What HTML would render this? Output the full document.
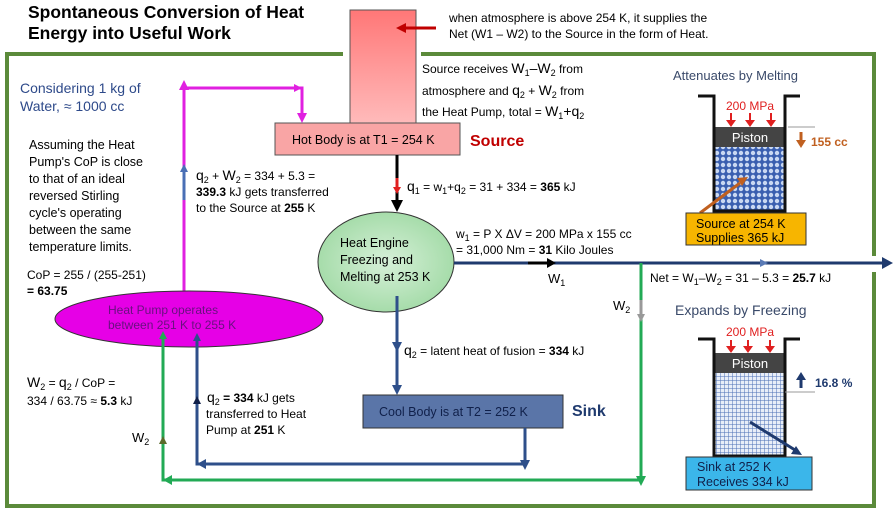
<!DOCTYPE html>
<html><head><meta charset="utf-8"><style>
body{margin:0;background:#fff}
svg{display:block;font-family:"Liberation Sans",Arial,sans-serif}
</style></head><body>
<svg width="895" height="511" viewBox="0 0 895 511" xmlns="http://www.w3.org/2000/svg">
<defs>
<pattern id="dots" width="6" height="6" patternUnits="userSpaceOnUse"><rect width="6" height="6" fill="#3a5fb0"/><circle cx="3" cy="3" r="2.2" fill="#c9d8f2"/></pattern>
<pattern id="grid" width="4" height="4" patternUnits="userSpaceOnUse"><rect width="4" height="4" fill="#e8eef8"/><path d="M0 0H4M0 0V4" stroke="#4a6fb5" stroke-width="1"/></pattern>
<linearGradient id="pill" x1="0" y1="0" x2="0" y2="1"><stop offset="0" stop-color="#f77"/><stop offset="1" stop-color="#fbb"/></linearGradient>
<radialGradient id="eng"><stop offset="0" stop-color="#d6f0d8"/><stop offset="1" stop-color="#a6dcaa"/></radialGradient>
</defs>
<g stroke="#5b8a3a" stroke-width="4" fill="none">
<path d="M343 54H7V506H874V272"/>
<path d="M421 54H874V256"/>
</g>
<text x="28" y="18" font-size="17.5" font-weight="bold">Spontaneous Conversion of Heat</text>
<text x="28" y="39" font-size="17.5" font-weight="bold">Energy into Useful Work</text>
<rect x="350" y="10" width="66" height="114" fill="url(#pill)" stroke="#555"/>
<rect x="275" y="123" width="185" height="32" fill="#f9a5a5" stroke="#555"/>
<text x="292" y="144" font-size="12.5">Hot Body is at T1 = 254 K</text>
<text x="470" y="146" font-size="16" font-weight="bold" fill="#c00000">Source</text>
<path d="M436 28H405" stroke="#c00000" stroke-width="3"/><path d="M396 28l10-5v10z" fill="#c00000"/>
<text x="449" y="22" font-size="12">when atmosphere is above 254 K, it supplies the</text>
<text x="449" y="38" font-size="12">Net (W1 – W2) to the Source in the form of Heat.</text>
<text x="422" y="73" font-size="12">Source receives <tspan font-size="14">W</tspan><tspan font-size="9" dy="3">1</tspan><tspan dy="-3" font-size="14">–W</tspan><tspan font-size="9" dy="3">2</tspan><tspan dy="-3"> from</tspan></text>
<text x="422" y="95" font-size="12">atmosphere and <tspan font-size="14">q</tspan><tspan font-size="9" dy="3">2</tspan><tspan dy="-3"> + </tspan><tspan font-size="14">W</tspan><tspan font-size="9" dy="3">2</tspan><tspan dy="-3"> from</tspan></text>
<text x="422" y="116" font-size="12">the Heat Pump, total = <tspan font-size="14">W</tspan><tspan font-size="9" dy="3">1</tspan><tspan dy="-3" font-size="14">+q</tspan><tspan font-size="9" dy="3">2</tspan></text>
<text x="20" y="93" font-size="14" fill="#2e4a8a">Considering 1 kg of</text>
<text x="20" y="111" font-size="14" fill="#2e4a8a">Water, ≈ 1000 cc</text>
<g font-size="12.5"><text x="29" y="149">Assuming the Heat</text><text x="29" y="166">Pump's CoP is close</text><text x="29" y="183">to that of an ideal</text><text x="29" y="200">reversed Stirling</text><text x="29" y="217">cycle's operating</text><text x="29" y="234">between the same</text><text x="29" y="251">temperature limits.</text></g>
<text x="27" y="279" font-size="12">CoP = 255 / (255-251)</text>
<text x="27" y="295" font-size="12" font-weight="bold">= 63.75</text>
<text x="27" y="387" font-size="12"><tspan font-size="14">W</tspan><tspan font-size="9" dy="3">2</tspan><tspan dy="-3"> = </tspan><tspan font-size="14">q</tspan><tspan font-size="9" dy="3">2</tspan><tspan dy="-3"> / CoP =</tspan></text>
<text x="27" y="405" font-size="12">334 / 63.75 ≈  <tspan font-weight="bold">5.3</tspan> kJ</text>
<text x="132" y="442" font-size="13">W<tspan font-size="9" dy="3">2</tspan></text>
<path d="M184 291V88H302V115" stroke="#e020e0" stroke-width="3" fill="none"/>
<path d="M184 80l-5 10h10z M302 123l-5-10h10z M302 88l-8-4v8z" fill="#e020e0"/>
<path d="M184 168V200" stroke="#4a6fb5" stroke-width="3"/><path d="M184 164l-4 8h8z" fill="#4a6fb5"/>
<text x="196" y="180" font-size="12"><tspan font-size="14">q</tspan><tspan font-size="9" dy="3">2</tspan><tspan dy="-3"> + </tspan><tspan font-size="14">W</tspan><tspan font-size="9" dy="3">2</tspan><tspan dy="-3"> = 334 + 5.3 =</tspan></text>
<text x="196" y="196" font-size="12"><tspan font-weight="bold">339.3</tspan> kJ gets transferred</text>
<text x="196" y="212" font-size="12">to the Source at <tspan font-weight="bold">255</tspan> K</text>
<ellipse cx="189" cy="319" rx="134" ry="28" fill="#e600e6" stroke="#333"/>
<text x="108" y="314" font-size="12" fill="#6a1080">Heat Pump  operates</text>
<text x="108" y="329" font-size="12" fill="#6a1080">between 251 K to 255 K</text>
<path d="M397 155V203" stroke="#000" stroke-width="3"/>
<path d="M397 212l-6-12h12z" fill="#000"/>
<path d="M397 178V190" stroke="#e02020" stroke-width="3"/><path d="M397 194l-4-7h8z" fill="#e02020"/>
<text x="407" y="191" font-size="12"><tspan font-size="14">q</tspan><tspan font-size="9" dy="3">1</tspan><tspan dy="-3"> = w</tspan><tspan font-size="9" dy="3">1</tspan><tspan dy="-3">+q</tspan><tspan font-size="9" dy="3">2</tspan><tspan dy="-3"> = 31 + 334 = </tspan><tspan font-weight="bold">365</tspan> kJ</text>
<ellipse cx="386" cy="262" rx="68" ry="50" fill="url(#eng)" stroke="#333"/>
<g font-size="12.5"><text x="340" y="247">Heat Engine</text><text x="340" y="264">Freezing and</text><text x="340" y="281">Melting at 253 K</text></g>
<text x="456" y="238" font-size="12">w<tspan font-size="9" dy="3">1</tspan><tspan dy="-3"> = P X ΔV =  200 MPa x 155 cc</tspan></text>
<text x="456" y="254" font-size="12">= 31,000 Nm = <tspan font-weight="bold">31</tspan> Kilo Joules</text>
<path d="M454 263H884" stroke="#1f3a6e" stroke-width="3"/>
<path d="M528 263H550" stroke="#000" stroke-width="3"/><path d="M556 263l-9-5v10z" fill="#000"/>
<path d="M768 263l-8-4v8z" fill="#5a7ab5"/>
<path d="M893 263l-11-6v12z" fill="#1f3a6e"/>
<text x="548" y="283" font-size="13">W<tspan font-size="9" dy="3">1</tspan></text>
<text x="650" y="282" font-size="12">Net = W<tspan font-size="9" dy="3">1</tspan><tspan dy="-3">–W</tspan><tspan font-size="9" dy="3">2</tspan><tspan dy="-3"> = 31 – 5.3 = </tspan><tspan font-weight="bold">25.7</tspan> kJ</text>
<text x="613" y="310" font-size="13">W<tspan font-size="9" dy="3">2</tspan></text>
<path d="M641 263V480H163V338" stroke="#22aa55" stroke-width="3" fill="none"/>
<path d="M641 300V318" stroke="#999" stroke-width="3"/><path d="M641 322l-4-8h8z" fill="#999"/>
<path d="M641 486l-5-10h10z M163 480l9-5v10z M163 331l-4 8h8z" fill="#22aa55"/>
<path d="M163 436l-4 8h8z" fill="#5a6a2a"/>
<path d="M397 296V388" stroke="#2e4f8a" stroke-width="3"/>
<path d="M397 352l-5-10h10z M397 395l-5-10h10z" fill="#2e4f8a"/>
<text x="404" y="355" font-size="12"><tspan font-size="14">q</tspan><tspan font-size="9" dy="3">2</tspan><tspan dy="-3"> = latent heat of fusion = </tspan><tspan font-weight="bold">334</tspan> kJ</text>
<rect x="363" y="395" width="200" height="33" fill="#5a75a8" stroke="#333"/>
<text x="379" y="416" font-size="12.5" fill="#10204a">Cool Body is at T2 = 252 K</text>
<text x="572" y="416" font-size="16" font-weight="bold" fill="#1f3a6e">Sink</text>
<path d="M525 428V464H197V340" stroke="#2e4f8a" stroke-width="3" fill="none"/>
<path d="M525 470l-5-10h10z M197 464l9-5v10z M197 333l-4 8h8z" fill="#2e4f8a"/>
<path d="M197 396l-4 8h8z" fill="#10204a"/>
<text x="207" y="402" font-size="12"><tspan font-size="14">q</tspan><tspan font-size="9" dy="3">2</tspan><tspan dy="-3" font-weight="bold"> = 334</tspan> kJ gets</text>
<text x="206" y="418" font-size="12">transferred to Heat</text>
<text x="206" y="434" font-size="12">Pump at <tspan font-weight="bold">251</tspan> K</text>
<text x="673" y="80" font-size="13" fill="#3a4a6a">Attenuates by Melting</text>
<rect x="715" y="147" width="70" height="63" fill="url(#dots)"/>
<rect x="715" y="127" width="70" height="20" fill="#444"/>
<text x="750" y="142" font-size="13" fill="#fff" text-anchor="middle">Piston</text>
<path d="M698 96H714V211H785V96H800" stroke="#111" stroke-width="3" fill="none"/>
<text x="750" y="110" font-size="12" fill="#e02020" text-anchor="middle">200 MPa</text>
<g stroke="#e02020" stroke-width="2"><path d="M731 113V122M750 113V122M771 113V122"/></g>
<path d="M726 120h10l-5 7z M745 120h10l-5 7z M766 120h10l-5 7z" fill="#e02020"/>
<path d="M788 127H815" stroke="#999"/>
<path d="M801 132V142" stroke="#c06020" stroke-width="3"/><path d="M796 140h10l-5 8z" fill="#c06020"/>
<text x="811" y="146" font-size="12" font-weight="bold" fill="#c06020">155 cc</text>
<path d="M700 213L740 183" stroke="#c06020" stroke-width="3"/><path d="M748 177l-11 1 5 8z" fill="#c06020"/>
<rect x="686" y="213" width="120" height="32" fill="#f7b500" stroke="#333"/>
<text x="696" y="228" font-size="12.5">Source at 254 K</text>
<text x="696" y="242" font-size="12.5">Supplies 365 kJ</text>
<text x="675" y="315" font-size="14" fill="#3a4a6a">Expands by Freezing</text>
<rect x="715" y="373" width="70" height="83" fill="url(#grid)"/>
<rect x="715" y="353" width="70" height="20" fill="#444"/>
<text x="750" y="368" font-size="13" fill="#fff" text-anchor="middle">Piston</text>
<path d="M698 339H714V456H785V339H800" stroke="#111" stroke-width="3" fill="none"/>
<text x="750" y="336" font-size="12" fill="#e02020" text-anchor="middle">200 MPa</text>
<g stroke="#e02020" stroke-width="2"><path d="M731 340V348M748 340V348M770 340V348"/></g>
<path d="M726 346h10l-5 7z M743 346h10l-5 7z M765 346h10l-5 7z" fill="#e02020"/>
<path d="M785 392H815" stroke="#999"/>
<path d="M801 388V378" stroke="#1f3a6e" stroke-width="3"/><path d="M796 380h10l-5-8z" fill="#1f3a6e"/>
<text x="815" y="387" font-size="12" font-weight="bold" fill="#1f3a6e">16.8 %</text>
<path d="M750 422L795 450" stroke="#1f3a6e" stroke-width="3"/><path d="M802 455l-11-1 5-8z" fill="#1f3a6e"/>
<rect x="686" y="457" width="126" height="33" fill="#3bb6ea" stroke="#333"/>
<text x="697" y="471" font-size="12.5" fill="#10204a">Sink at 252 K</text>
<text x="697" y="486" font-size="12.5" fill="#10204a">Receives  334 kJ</text>
</svg>
</body></html>
